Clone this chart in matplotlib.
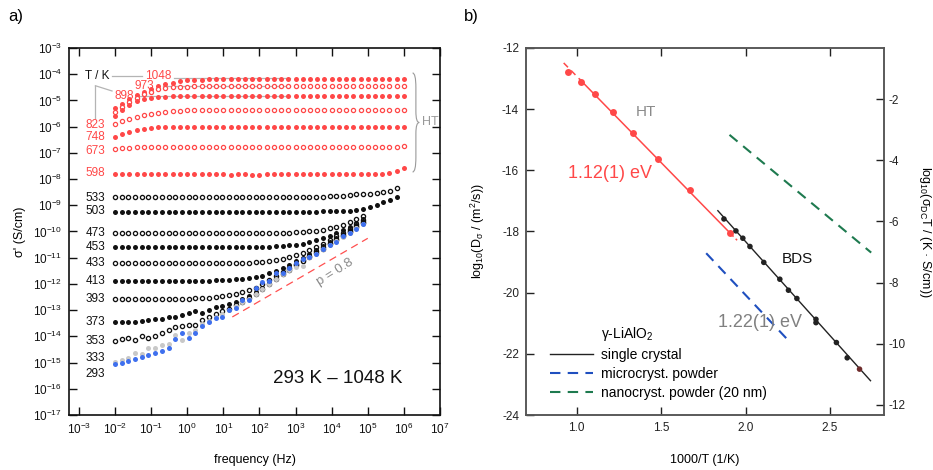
import numpy as np
import matplotlib
matplotlib.use('Agg')
import matplotlib.pyplot as plt
from matplotlib.lines import Line2D
from matplotlib.path import Path
from matplotlib.patches import PathPatch
from matplotlib.ticker import LogLocator, NullLocator

plt.rcParams['font.family'] = ['Liberation Sans', 'DejaVu Sans']
plt.rcParams['mathtext.fontset'] = 'custom'
plt.rcParams['mathtext.rm'] = 'Liberation Sans'
plt.rcParams['mathtext.it'] = 'Liberation Sans:italic'
plt.rcParams['mathtext.default'] = 'regular'
plt.rcParams['axes.unicode_minus'] = False

# ---------------- (a) conductivity spectra, log10(sigma' / S/cm) ----------------
# high-temperature runs: 0.2 decade steps, 1e-2 ... 1e6 Hz
s1048 = [-5.30, -5.12, -4.95, -4.80, -4.66, -4.55, -4.46, -4.38, -4.32, -4.27,
         -4.24, -4.22, -4.21, -4.20, -4.20, -4.20, -4.20, -4.20, -4.20, -4.20,
         -4.20, -4.20, -4.20, -4.20, -4.20, -4.20, -4.20, -4.20, -4.20, -4.20,
         -4.20, -4.20, -4.20, -4.20, -4.20, -4.20, -4.20, -4.20, -4.20, -4.20,
         -4.20]
s973 = [-5.45, -5.25, -5.06, -4.90, -4.77, -4.66, -4.58, -4.53, -4.50, -4.48,
        -4.47, -4.46, -4.45, -4.45, -4.45, -4.45, -4.45, -4.45, -4.45, -4.45,
        -4.45, -4.45, -4.45, -4.45, -4.45, -4.45, -4.45, -4.45, -4.45, -4.45,
        -4.45, -4.45, -4.45, -4.45, -4.45, -4.45, -4.45, -4.45, -4.45, -4.45,
        -4.45]
s898 = [-5.60, -5.36, -5.16, -5.03, -4.95, -4.90, -4.87, -4.86, -4.85, -4.84,
        -4.84, -4.84, -4.84, -4.84, -4.84, -4.84, -4.84, -4.84, -4.84, -4.84,
        -4.84, -4.84, -4.84, -4.84, -4.84, -4.84, -4.84, -4.84, -4.84, -4.84,
        -4.84, -4.84, -4.84, -4.84, -4.84, -4.84, -4.84, -4.84, -4.84, -4.84,
        -4.84]
s823 = [-5.90, -5.77, -5.70, -5.63, -5.57, -5.52, -5.47, -5.44, -5.42, -5.40,
        -5.38, -5.37, -5.36, -5.35, -5.35, -5.35, -5.35, -5.35, -5.35, -5.35,
        -5.35, -5.35, -5.35, -5.35, -5.35, -5.35, -5.35, -5.35, -5.35, -5.35,
        -5.35, -5.35, -5.35, -5.35, -5.35, -5.35, -5.35, -5.35, -5.35, -5.35,
        -5.35]
s748 = [-6.39, -6.28, -6.19, -6.13, -6.08, -6.05, -6.03, -6.02, -6.01, -6.00,
        -6.00, -6.00, -6.00, -6.00, -6.00, -6.00, -6.00, -6.00, -6.00, -6.00,
        -6.00, -6.00, -6.00, -6.00, -6.00, -6.00, -6.00, -6.00, -6.00, -6.00,
        -6.00, -6.00, -6.00, -6.00, -6.00, -6.00, -6.00, -6.00, -6.00, -6.00,
        -6.00]
s673 = [-6.86, -6.82, -6.80, -6.79, -6.78, -6.78, -6.78, -6.78, -6.78, -6.78,
        -6.78, -6.78, -6.78, -6.78, -6.78, -6.78, -6.78, -6.78, -6.78, -6.78,
        -6.78, -6.78, -6.78, -6.78, -6.78, -6.78, -6.78, -6.78, -6.78, -6.78,
        -6.78, -6.78, -6.78, -6.78, -6.78, -6.78, -6.78, -6.78, -6.77, -6.76,
        -6.74]
s598 = [-7.80, -7.80, -7.80, -7.80, -7.80, -7.80, -7.80, -7.80, -7.80, -7.80,
        -7.80, -7.80, -7.80, -7.80, -7.80, -7.80, -7.83, -7.82, -7.80, -7.85,
        -7.83, -7.80, -7.80, -7.80, -7.80, -7.80, -7.80, -7.80, -7.80, -7.80,
        -7.80, -7.80, -7.80, -7.80, -7.80, -7.80, -7.80, -7.79, -7.77, -7.69,
        -7.59]

# low-temperature runs: finer grid, 1e-2 ... 10**5.8 Hz
s533 = [-8.68, -8.68, -8.68, -8.68, -8.68, -8.68, -8.68, -8.68, -8.68, -8.68,
        -8.68, -8.68, -8.68, -8.68, -8.68, -8.68, -8.68, -8.68, -8.68, -8.68,
        -8.68, -8.68, -8.68, -8.68, -8.68, -8.68, -8.68, -8.68, -8.68, -8.68,
        -8.68, -8.67, -8.66, -8.65, -8.63, -8.61, -8.58, -8.56, -8.57, -8.55,
        -8.51, -8.45, -8.35]
s503 = [-9.24, -9.24, -9.24, -9.24, -9.24, -9.24, -9.24, -9.24, -9.24, -9.24,
        -9.24, -9.24, -9.24, -9.24, -9.24, -9.24, -9.24, -9.24, -9.24, -9.24,
        -9.24, -9.24, -9.24, -9.24, -9.24, -9.24, -9.24, -9.24, -9.24, -9.24,
        -9.24, -9.23, -9.23, -9.22, -9.21, -9.20, -9.18, -9.15, -9.07, -8.98,
        -8.89, -8.80, -8.69]
s473 = [-10.07, -10.07, -10.07, -10.07, -10.07, -10.07, -10.07, -10.07, -10.07, -10.07,
        -10.07, -10.07, -10.07, -10.07, -10.07, -10.07, -10.07, -10.07, -10.07, -10.07,
        -10.07, -10.07, -10.06, -10.06, -10.06, -10.05, -10.04, -10.03, -10.02, -10.00,
        -9.97, -9.93, -9.88, -9.82, -9.74, -9.65, -9.53, -9.41]
s453 = [-10.61, -10.61, -10.61, -10.61, -10.61, -10.61, -10.61, -10.61, -10.61, -10.61,
        -10.61, -10.61, -10.61, -10.61, -10.61, -10.61, -10.61, -10.61, -10.61, -10.61,
        -10.60, -10.60, -10.59, -10.59, -10.57, -10.56, -10.53, -10.50, -10.46, -10.41,
        -10.34, -10.26, -10.17, -10.06, -9.94, -9.81, -9.66, -9.51]
s433 = [-11.22, -11.22, -11.22, -11.22, -11.22, -11.22, -11.22, -11.22, -11.22, -11.22,
        -11.22, -11.22, -11.22, -11.22, -11.22, -11.22, -11.22, -11.21, -11.21, -11.20,
        -11.20, -11.18, -11.17, -11.14, -11.10, -11.04, -10.98, -10.90, -10.81, -10.71,
        -10.59, -10.47, -10.33, -10.19, -10.04, -9.89, -9.73, -9.57]
s413 = [-11.88, -11.88, -11.88, -11.88, -11.88, -11.88, -11.88, -11.88, -11.88, -11.88,
        -11.88, -11.88, -11.88, -11.87, -11.87, -11.86, -11.85, -11.84, -11.83, -11.81,
        -11.79, -11.74, -11.68, -11.60, -11.50, -11.38, -11.26, -11.13, -11.00, -10.86,
        -10.71, -10.56, -10.41, -10.25, -10.09, -9.93, -9.77, -9.61]
s393 = [-12.59, -12.59, -12.59, -12.59, -12.59, -12.59, -12.59, -12.59, -12.58, -12.58,
        -12.57, -12.56, -12.55, -12.54, -12.52, -12.50, -12.47, -12.43, -12.38, -12.32,
        -12.25, -12.14, -12.01, -11.86, -11.70, -11.53, -11.38, -11.23, -11.08, -10.92,
        -10.76, -10.60, -10.45, -10.29, -10.13, -9.97, -9.80, -9.64]
s373 = [-13.45, -13.45, -13.45, -13.44, -13.41, -13.38, -13.34, -13.32, -13.28, -13.27,
        -13.17, -13.10, -13.04, -13.09, -12.98, -12.88, -12.86, -12.78, -12.68, -12.58,
        -12.47, -12.31, -12.14, -11.95, -11.77, -11.58, -11.43, -11.27, -11.11, -10.95,
        -10.79, -10.63, -10.47, -10.31, -10.15, -9.99, -9.82, -9.66]
s353 = [-14.16, -14.10, -14.06, -14.15, -14.00, -14.05, -13.97, -13.89, -13.77, -13.66,
        -13.62, -13.58, -13.56, -13.36, -13.27, -13.15, -13.05, -12.95, -12.82, -12.69,
        -12.55, -12.37, -12.18, -11.99, -11.80, -11.61, -11.45, -11.29, -11.13, -10.97,
        -10.81, -10.65, -10.49, -10.33, -10.17, -10.01, -9.84, -9.68]
s333 = [-14.98, -14.90, -14.83, -14.63, -14.69, -14.46, -14.43, -14.34, -14.28, -13.93,
        -14.15, -13.89, -13.75, -13.53, -13.41, -13.26, -13.14, -12.98, -12.86, -12.70,
        -12.58, -12.37, -12.20, -12.00, -11.82, -11.62, -11.47, -11.35, -11.32, -10.99,
        -10.85, -10.68, -10.53, -10.37, -10.20, -10.04, -9.87, -9.71]
s293 = [-15.07, -15.02, -14.95, -14.85, -14.80, -14.72, -14.65, -14.55, -14.44, -14.09,
        -13.87, -14.08, -13.87, -13.62, -13.45, -13.29, -13.26, -13.00, -12.91, -12.62,
        -12.62, -12.15, -11.92, -11.89, -11.60, -11.60, -11.41, -11.22, -11.03, -10.97,
        -10.87, -10.65, -10.52, -10.39, -10.18, -10.07, -9.90, -9.72]

hf_logf = np.linspace(-2, 6, 41)
lf_logf = np.linspace(-2, 5.8, 43)

ht_temps = ['1048', '973', '898', '823', '748', '673', '598']
ht_data = [s1048, s973, s898, s823, s748, s673, s598]
lt_temps = ['533', '503', '473', '453', '433', '413', '393', '373', '353', '333', '293']
lt_data = [s533, s503, s473, s453, s433, s413, s393, s373, s353, s333, s293]

# label heights (log10 sigma) for the temperature column on the left
ht_label_y = [-5.94, -6.41, -6.93, -7.78]          # 823, 748, 673, 598
lt_label_y = [-8.71, -9.22, -10.07, -10.61, -11.22, -11.89, -12.59, -13.45, -14.17, -14.82, -15.45]

p_exp = 0.8

# ---------------- (b) Arrhenius plot ----------------
ht_x = [0.949, 1.024, 1.110, 1.213, 1.333, 1.483, 1.669, 1.909]
ht_y = [-12.77, -13.10, -13.51, -14.09, -14.77, -15.62, -16.64, -18.06]
bds_x = [1.872, 1.943, 1.984, 2.026, 2.108, 2.203, 2.254, 2.304, 2.417, 2.417, 2.538, 2.602, 2.675]
bds_y = [-17.59, -17.98, -18.22, -18.49, -19.01, -19.56, -19.92, -20.19, -20.87, -20.98, -21.63, -22.13, -22.50]
micro_x = [1.767, 2.260]
micro_y = [-18.71, -21.60]
nano_x = [1.905, 2.744]
nano_y = [-14.84, -18.69]
Ea_ht = 1.12
Ea_bds = 1.22
kB = 8.617e-5

RED = '#ff4848'
GRAY = '#b4b4b4'
BLUE = '#3f70ee'

fig = plt.figure(figsize=(9.33, 4.70), dpi=100)
ax = fig.add_axes([0.0740, 0.1170, 0.3976, 0.7809])
axb = fig.add_axes([0.5638, 0.1170, 0.3837, 0.7809])

# ---- panel a ----
for vals, i in zip(ht_data, range(len(ht_data))):
    f = 10 ** hf_logf[:len(vals)]
    s = 10 ** np.array(vals)
    if i % 2 == 0:
        ax.plot(f, s, 'o', ls='none', ms=3.6, mfc=RED, mec='none', zorder=3)
    else:
        ax.plot(f, s, 'o', ls='none', ms=3.0, mfc='white', mec=RED, mew=0.9, zorder=3)

for vals, i in zip(lt_data, range(len(lt_data))):
    f = 10 ** lf_logf[:len(vals)]
    s = 10 ** np.array(vals)
    name = lt_temps[i]
    if name == '333':
        ax.plot(f, s, 'o', ls='none', ms=3.6, mfc='#c8c8c8', mec='none', zorder=4)
    elif name == '293':
        ax.plot(f, s, 'o', ls='none', ms=3.6, mfc=BLUE, mec='none', zorder=5)
    elif i % 2 == 0:
        ax.plot(f, s, 'o', ls='none', ms=3.0, mfc='white', mec='#111111', mew=0.95, zorder=3)
    else:
        ax.plot(f, s, 'o', ls='none', ms=3.6, mfc='#111111', mec='none', zorder=3)

# p = 0.8 guide line through the high-frequency wing
pf = np.array([10 ** 1.25, 10 ** 5.0])
ax.plot(pf, 10 ** -13.26 * (pf / pf[0]) ** p_exp, color='#ff5050', lw=0.9,
        ls=(0, (6, 4)), zorder=2)
ax.text(10 ** 4.1, 10 ** -11.55, 'p = 0.8', color='#8a8a8a', fontsize=9.5,
        rotation=32, ha='center', va='center')

# temperature labels
xl = 10 ** -2.27
for t, y in zip(ht_temps[3:], ht_label_y):
    ax.text(xl, 10 ** y, t, color=RED, fontsize=8.5, ha='right', va='center')
for t, y in zip(lt_temps, lt_label_y):
    ax.text(xl, 10 ** y, t, color='#111111', fontsize=8.5, ha='right', va='center')
ax.text(10 ** -2.49, 10 ** -4.06, 'T / K', color='#111111', fontsize=8.5, ha='center', va='center')
ax.text(10 ** -0.80, 10 ** -4.06, '1048', color=RED, fontsize=8.5, ha='center', va='center')
ax.text(10 ** -1.18, 10 ** -4.45, '973', color=RED, fontsize=8.5, ha='center', va='center')
ax.text(10 ** -1.74, 10 ** -4.82, '898', color=RED, fontsize=8.5, ha='center', va='center')

# leader lines from the labels
lc = dict(color=GRAY, lw=0.9, zorder=1)
ax.plot([10 ** -2.07, 10 ** -1.24], [10 ** -4.06, 10 ** -4.06], **lc)
ax.plot([10 ** -0.36, 10 ** 2.85], [10 ** (s1048[-1] + 0.04)] * 2, **lc)
ax.plot([10 ** -0.80 + 0.05, 10 ** 2.85], [10 ** (s973[-1] + 0.01)] * 2, **lc)
ax.plot([10 ** -1.41, 10 ** 2.85], [10 ** (s898[-1] + 0.02)] * 2, **lc)
ax.plot([10 ** -2.54, 10 ** -2.54], [10 ** -4.44, 10 ** -5.67], **lc)
ax.plot([10 ** -2.54, 10 ** -2.08], [10 ** -4.44, 10 ** -4.64], **lc)

# brace marking the high-temperature set
bx, bw = 0.926, 0.009
bt, bb = 0.932, 0.662
bm = (bt + bb) / 2
verts = [(bx, bt), (bx + bw, bt), (bx + bw, bt - 0.04),
         (bx + bw, bm + 0.03),
         (bx + bw, bm), (bx + 2 * bw, bm),
         (bx + bw, bm), (bx + bw, bm - 0.03),
         (bx + bw, bb + 0.04),
         (bx + bw, bb), (bx, bb)]
codes = [Path.MOVETO, Path.CURVE3, Path.CURVE3, Path.LINETO,
         Path.CURVE3, Path.CURVE3, Path.CURVE3, Path.CURVE3,
         Path.LINETO, Path.CURVE3, Path.CURVE3]
ax.add_patch(PathPatch(Path(verts, codes), transform=ax.transAxes, fc='none',
                       ec='#9a9a9a', lw=0.8, clip_on=False))
ax.text(0.951, bm, 'HT', transform=ax.transAxes, color='#999999', fontsize=9,
        ha='left', va='center')

ax.text(10 ** 4.17, 10 ** -15.6, '293 K \u2013 1048 K', fontsize=13.5,
        ha='center', va='center', color='#111111')

ax.set_xscale('log')
ax.set_yscale('log')
ax.set_xlim(10 ** -3.27, 1e7)
ax.set_ylim(1e-17, 1e-3)
ax.xaxis.set_major_locator(LogLocator(base=10, numticks=30))
ax.yaxis.set_major_locator(LogLocator(base=10, numticks=30))
ax.xaxis.set_minor_locator(NullLocator())
ax.yaxis.set_minor_locator(NullLocator())
ax.tick_params(which='major', direction='in', length=6, width=1.0, top=True, right=True,
               labelsize=8.5, pad=5, colors='#111111')
for sp in ax.spines.values():
    sp.set_linewidth(1.2)
    sp.set_color('#111111')
ax.set_xlabel('frequency (Hz)', fontsize=9)
ax.xaxis.set_label_coords(0.5, -0.106)
ax.set_ylabel("\u03c3' (S/cm)", fontsize=9)
ax.yaxis.set_label_coords(-0.116, 0.5)

# ---- panel b ----
slope_ht = -Ea_ht / (kB * np.log(10)) / 1000.0
slope_bds = -Ea_bds / (kB * np.log(10)) / 1000.0
x0h, y0h = 1.336, -14.82
xr = np.array([0.923, 1.02])
axb.plot(xr, y0h + slope_ht * (xr - x0h), color=RED, lw=1.1, ls=(0, (4, 3)))
xr = np.array([1.02, 1.91])
axb.plot(xr, y0h + slope_ht * (xr - x0h), color=RED, lw=1.1)
xr = np.array([1.91, 1.95])
axb.plot(xr, y0h + slope_ht * (xr - x0h), color=RED, lw=1.1, ls=(0, (3, 2)))
axb.plot(ht_x, ht_y, 'o', ls='none', ms=5.0, color=RED, mec='none', zorder=4)

x0b, y0b = 1.836, -17.32
xr = np.array([1.836, 2.74])
sc_line, = axb.plot(xr, y0b + slope_bds * (xr - x0b), color='#222222', lw=1.0)
bds_col = ['#222222'] * (len(bds_x) - 1) + ['#6e2b2b']
axb.scatter(bds_x, bds_y, s=16, c=bds_col, zorder=5, linewidths=0)

mc_line, = axb.plot(micro_x, micro_y, color='#1f4fbf', lw=1.5, ls=(0, (5, 3.5)))
nc_line, = axb.plot(nano_x, nano_y, color='#1e7a4f', lw=1.5, ls=(0, (5, 3.5)))

axb.text(1.412, -14.08, 'HT', color='#8a8a8a', fontsize=11, ha='center', va='center')
axb.text(1.195, -16.12, '1.12(1) eV', color=RED, fontsize=13, ha='center', va='center')
axb.text(2.308, -18.90, 'BDS', color='#111111', fontsize=11, ha='center', va='center')
axb.text(2.083, -20.98, '1.22(1) eV', color='#808080', fontsize=13, ha='center', va='center')

title_h = Line2D([], [], color='none')
leg = axb.legend([title_h, sc_line, mc_line, nc_line],
                 ['\u03b3-LiAlO$_2$', 'single crystal', 'microcryst. powder',
                  'nanocryst. powder (20 nm)'],
                 loc='lower left', bbox_to_anchor=(0.066, 0.04), frameon=False,
                 fontsize=10, handlelength=3.1, handletextpad=0.6,
                 labelspacing=0.36, borderpad=0, borderaxespad=0)

axb.set_xlim(0.70, 2.82)
axb.set_ylim(-24, -12)
axb.set_xticks([1.0, 1.5, 2.0, 2.5])
axb.set_yticks([-24, -22, -20, -18, -16, -14, -12])
axb.tick_params(direction='in', length=6, width=1.0, top=True, right=False,
                labelsize=8.5, pad=5, colors='#222222')
for sp in axb.spines.values():
    sp.set_linewidth(1.1)
    sp.set_color('#555555')
axb.set_xlabel('1000/T (1/K)', fontsize=9)
axb.xaxis.set_label_coords(0.5, -0.106)
axb.set_ylabel('log$_{10}$(D$_\u03c3$ / (m$^2$/s))', fontsize=9)
axb.yaxis.set_label_coords(-0.108, 0.5)

axr = axb.twinx()
axr.set_ylim(-12.33, -0.33)
axr.set_yticks([-12, -10, -8, -6, -4, -2])
axr.tick_params(direction='in', length=6, width=1.0, labelsize=8.5, pad=3, colors='#222222')
for sp in axr.spines.values():
    sp.set_linewidth(1.1)
    sp.set_color('#555555')
axr.set_ylabel('log$_{10}$(\u03c3$_{DC}$T / (K \u00b7 S/cm))', fontsize=9, rotation=270,
               va='center')
axr.yaxis.set_label_coords(1.115, 0.5)

fig.text(0.009, 0.965, 'a)', fontsize=12, ha='left', va='center')
fig.text(0.497, 0.965, 'b)', fontsize=12, ha='left', va='center')

fig.savefig('out.png', dpi=100)
